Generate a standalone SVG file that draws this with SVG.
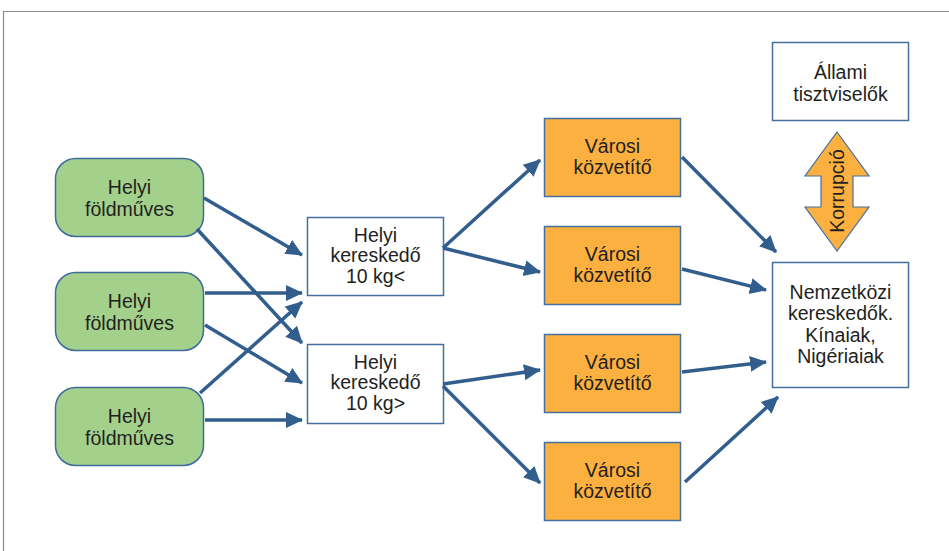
<svg xmlns="http://www.w3.org/2000/svg" width="949" height="551" viewBox="0 0 949 551">
<style>
.t{font-family:"Liberation Sans",Arial,sans-serif;font-size:19.5px;fill:#231f20;text-anchor:middle}
.g{fill:#a3d08a;stroke:#3f6b9c;stroke-width:1.5}
.o{fill:#fcb040;stroke:#44709f;stroke-width:1.5}
.w{fill:#fff;stroke:#44709f;stroke-width:1.5}
.c line{stroke:#315e8d;stroke-width:3.5}
</style>
<defs>
<marker id="ah" markerUnits="userSpaceOnUse" markerWidth="18" markerHeight="18" viewBox="0 0 18 18" refX="16" refY="9" orient="auto">
<path d="M0,1 L17,9 L0,17 Z" fill="#315e8d"/>
</marker>
</defs>
<rect width="949" height="551" fill="#fff"/>
<path d="M3.5,551 V11.5 H949" fill="none" stroke="#8a8a8a" stroke-width="1.2"/>

<g id="farmer1"><rect class="g" x="55.5" y="158.5" width="148" height="78" rx="20"/><text class="t" x="129.5" y="194">Helyi</text><text class="t" x="129.5" y="216">földműves</text></g>
<g id="farmer2"><rect class="g" x="55.5" y="272.5" width="148" height="78" rx="20"/><text class="t" x="129.5" y="308">Helyi</text><text class="t" x="129.5" y="330">földműves</text></g>
<g id="farmer3"><rect class="g" x="55.5" y="387.5" width="148" height="78" rx="20"/><text class="t" x="129.5" y="423">Helyi</text><text class="t" x="129.5" y="445">földműves</text></g>

<g id="trader1"><rect class="w" x="307.5" y="217.5" width="136" height="78"/><text class="t" x="375.5" y="242">Helyi</text><text class="t" x="375.5" y="262">kereskedő</text><text class="t" x="375.5" y="283">10 kg&lt;</text></g>
<g id="trader2"><rect class="w" x="307.5" y="344.5" width="136" height="79"/><text class="t" x="375.5" y="369">Helyi</text><text class="t" x="375.5" y="389">kereskedő</text><text class="t" x="375.5" y="410">10 kg&gt;</text></g>

<g id="city1"><rect class="o" x="544.5" y="118.5" width="136" height="78"/><text class="t" x="612.5" y="153">Városi</text><text class="t" x="612.5" y="174">közvetítő</text></g>
<g id="city2"><rect class="o" x="544.5" y="226.5" width="136" height="78"/><text class="t" x="612.5" y="261">Városi</text><text class="t" x="612.5" y="282">közvetítő</text></g>
<g id="city3"><rect class="o" x="544.5" y="334.5" width="136" height="78"/><text class="t" x="612.5" y="369">Városi</text><text class="t" x="612.5" y="390">közvetítő</text></g>
<g id="city4"><rect class="o" x="544.5" y="442.5" width="136" height="78"/><text class="t" x="612.5" y="477">Városi</text><text class="t" x="612.5" y="498">közvetítő</text></g>

<g id="officials"><rect class="w" x="772.5" y="42.5" width="136" height="78"/><text class="t" x="840.5" y="79">Állami</text><text class="t" x="840.5" y="101">tisztviselők</text></g>
<g id="international"><rect class="w" x="772.5" y="262.5" width="136" height="125"/><text class="t" x="840.5" y="299">Nemzetközi</text><text class="t" x="840.5" y="320">kereskedők.</text><text class="t" x="840.5" y="342">Kínaiak,</text><text class="t" x="840.5" y="363">Nigériaiak</text></g>

<g id="corruption">
<path d="M837,132 L869,176 L853,176 L853,207 L869,207 L837,251 L805,207 L821,207 L821,176 L805,176 Z" fill="#fcb040" stroke="#44709f" stroke-width="1.2"/>
<text class="t" transform="translate(844,191) rotate(-90)">Korrupció</text>
</g>

<g id="connectors" class="c">
<line x1="204" y1="198" x2="302" y2="255" marker-end="url(#ah)"/>
<line x1="197" y1="229" x2="302" y2="343" marker-end="url(#ah)"/>
<line x1="205" y1="293" x2="302" y2="293" marker-end="url(#ah)"/>
<line x1="205" y1="325" x2="302" y2="383" marker-end="url(#ah)"/>
<line x1="200" y1="393" x2="302" y2="302" marker-end="url(#ah)"/>
<line x1="205" y1="420" x2="302" y2="420" marker-end="url(#ah)"/>
<line x1="443" y1="248" x2="540" y2="160" marker-end="url(#ah)"/>
<line x1="443" y1="248" x2="540" y2="272" marker-end="url(#ah)"/>
<line x1="443" y1="384" x2="540" y2="370" marker-end="url(#ah)"/>
<line x1="443" y1="386" x2="540" y2="483" marker-end="url(#ah)"/>
<line x1="682" y1="157" x2="776" y2="252" marker-end="url(#ah)"/>
<line x1="682" y1="269" x2="766" y2="290" marker-end="url(#ah)"/>
<line x1="682" y1="372" x2="766" y2="362" marker-end="url(#ah)"/>
<line x1="685" y1="482" x2="778" y2="397" marker-end="url(#ah)"/>
</g>
</svg>
